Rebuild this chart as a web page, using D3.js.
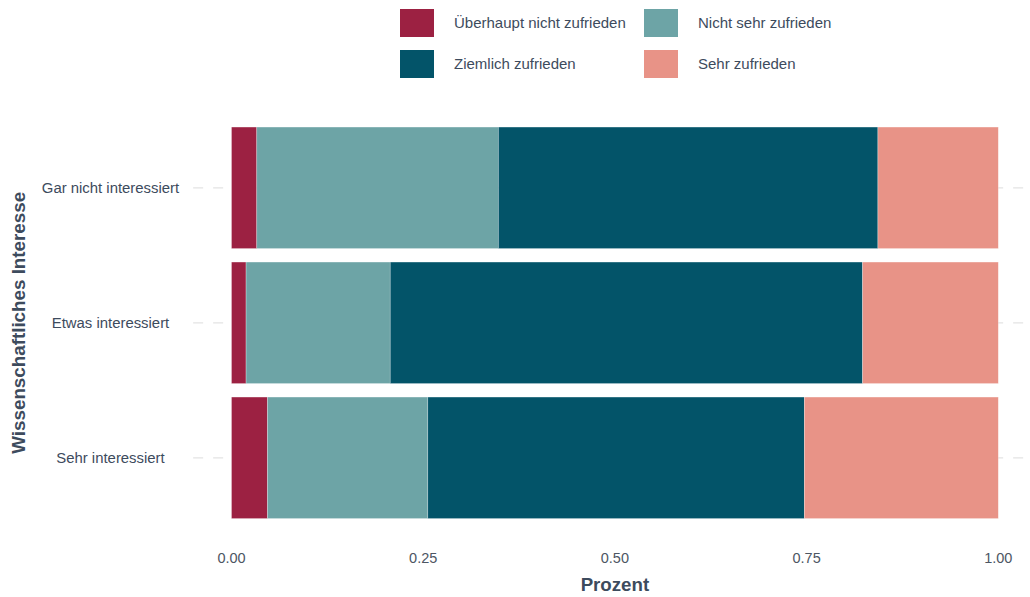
<!DOCTYPE html>
<html><head><meta charset="utf-8">
<script src="https://cdn.jsdelivr.net/npm/d3@7"></script>
<style>body{margin:0;background:#fff}svg{display:block}text{font-family:"Liberation Sans",Arial,sans-serif}</style>
</head><body><svg id="c" width="1030" height="597"></svg>
<script>
const categories = ["Gar nicht interessiert", "Etwas interessiert", "Sehr interessiert"];
const seriesNames = ["Überhaupt nicht zufrieden", "Nicht sehr zufrieden", "Ziemlich zufrieden", "Sehr zufrieden"];
const ueberhauptNicht = [0.033, 0.019, 0.047];
const nichtSehr = [0.315, 0.188, 0.209];
const ziemlich = [0.495, 0.616, 0.491];
const sehr = [0.157, 0.177, 0.253];
const xTicks = [0, 0.25, 0.5, 0.75, 1];
const colors = ["#9c2142", "#6da4a6", "#035469", "#e89387"];

const svg = d3.select("#c");
const textCol = "#3d4b5d";
const x = d3.scaleLinear().domain([0, 1]).range([231.5, 998.3]);
const y = d3.scaleBand().domain(categories).range([120.3, 525.3]).paddingInner(0.1).paddingOuter(0.05);

// gridlines
svg.append("g").selectAll("line").data(categories).join("line")
  .attr("x1", x(-0.05)).attr("x2", x(1.05))
  .attr("y1", d => y(d) + y.bandwidth() / 2).attr("y2", d => y(d) + y.bandwidth() / 2)
  .attr("stroke", "#e3e3e3").attr("stroke-width", 1.2).attr("stroke-dasharray", "10,10");

const rows = categories.map((c, i) => ({ c, vals: [ueberhauptNicht[i], nichtSehr[i], ziemlich[i], sehr[i]] }));
const stack = d3.stack().keys([0, 1, 2, 3]).value((d, k) => d.vals[k]);
const layers = stack(rows);
svg.append("g").selectAll("g").data(layers).join("g")
  .attr("fill", (d, i) => colors[i])
  .selectAll("rect").data(d => d).join("rect")
  .attr("x", d => x(d[0])).attr("width", d => x(d[1]) - x(d[0]))
  .attr("y", d => y(d.data.c)).attr("height", y.bandwidth())
  .attr("stroke", "#ffffff").attr("stroke-opacity", 0.45).attr("stroke-width", 0.6);

// y labels
svg.append("g").selectAll("text").data(categories).join("text")
  .attr("x", 110.5).attr("y", d => y(d) + y.bandwidth() / 2).attr("dy", "0.35em")
  .attr("text-anchor", "middle").attr("font-size", 14.9).attr("fill", textCol).text(d => d);

// x ticks
svg.append("g").selectAll("text").data(xTicks).join("text")
  .attr("x", d => x(d)).attr("y", 563).attr("text-anchor", "middle")
  .attr("font-size", 14.5).attr("fill", "#4d5663").text(d => d3.format(".2f")(d));

svg.append("text").attr("x", x(0.5)).attr("y", 591).attr("text-anchor", "middle")
  .attr("font-size", 18.7).attr("font-weight", "bold").attr("fill", textCol).text("Prozent");
svg.append("text").attr("transform", `translate(25,${y(categories[1]) + y.bandwidth() / 2}) rotate(-90)`)
  .attr("text-anchor", "middle").attr("font-size", 18.8).attr("font-weight", "bold").attr("fill", textCol)
  .text("Wissenschaftliches Interesse");

// legend
const legPos = [[400, 9], [644, 9], [400, 50], [644, 50]];
const leg = svg.append("g").selectAll("g").data(seriesNames).join("g")
  .attr("transform", (d, i) => `translate(${legPos[i][0]},${legPos[i][1]})`);
leg.append("rect").attr("width", 34).attr("height", 28).attr("fill", (d, i) => colors[i]);
leg.append("text").attr("x", 54).attr("y", 14).attr("dy", "0.35em").attr("font-size", 15)
  .attr("fill", textCol).text(d => d);
</script></body></html>
